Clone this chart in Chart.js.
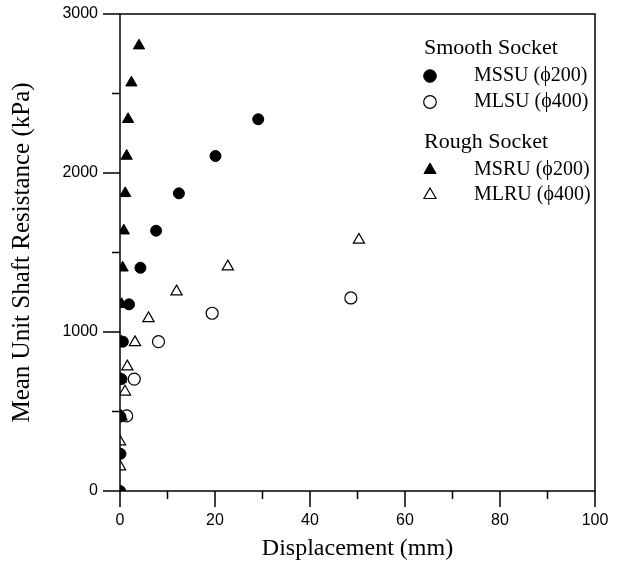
<!DOCTYPE html>
<html>
<head>
<meta charset="utf-8">
<script src="https://cdn.jsdelivr.net/npm/chart.js@4"></script>
<style>
  html, body { margin: 0; padding: 0; background: #fff; }
  #wrap { width: 622px; height: 574px; }
</style>
</head>
<body>
<div id="wrap"><canvas id="chart" width="622" height="574"></canvas></div>
<script>
// Smooth socket, phi 200 (filled circles)
const mssuX = [0, 0.1, 0.1, 0.3, 0.6, 1.9, 4.3, 7.6, 12.4, 20.1, 29.1];
const mssuY = [0, 234, 468, 704, 939, 1174, 1404, 1637, 1872, 2107, 2338];
// Smooth socket, phi 400 (open circles)
const mlsuX = [1.4, 3.0, 8.1, 19.4, 48.6];
const mlsuY = [472, 704, 939, 1118, 1214];
// Rough socket, phi 200 (filled triangles)
const msruX = [0.1, 0.2, 0.3, 0.35, 0.55, 0.8, 1.1, 1.4, 1.7, 2.4, 4.0];
const msruY = [468, 704, 939, 1174, 1404, 1637, 1872, 2107, 2338, 2568, 2801];
// Rough socket, phi 400 (open triangles)
const mlruX = [0, 0, 0.3, 1.05, 1.54, 3.16, 6.0, 11.9, 22.7, 50.3];
const mlruY = [153, 310, 468, 624, 782, 935, 1086, 1254, 1411, 1579];

const xTicks = [0, 20, 40, 60, 80, 100];
const yTicks = [0, 1000, 2000, 3000];

const legendGroups = [
  { title: 'Smooth Socket', items: [0, 1], labels: ['MSSU (\u03D5200)', 'MLSU (\u03D5400)'] },
  { title: 'Rough Socket', items: [2, 3], labels: ['MSRU (\u03D5200)', 'MLRU (\u03D5400)'] }
];

function pts(xs, ys) {
  return xs.map((x, i) => ({ x: x, y: ys[i] }));
}

const serif = "'Liberation Serif', 'Times New Roman', serif";
const sans = "'Liberation Sans', Arial, sans-serif";

// axis frame, tick marks and the grouped legend
const framePlugin = {
  id: 'frame',
  afterDraw(chart) {
    const ctx = chart.ctx;
    const a = chart.chartArea;
    const xs = chart.scales.x, ys = chart.scales.y;
    ctx.save();
    ctx.strokeStyle = '#000';
    ctx.lineWidth = 1.5;
    ctx.strokeRect(a.left, a.top, a.right - a.left, a.bottom - a.top);
    ctx.beginPath();
    for (let v = 0; v <= 100; v += 10) {
      const px = xs.getPixelForValue(v);
      const len = v % 20 === 0 ? 16 : 8;
      ctx.moveTo(px, a.bottom);
      ctx.lineTo(px, a.bottom + len);
    }
    for (let v = 0; v <= 3000; v += 500) {
      const py = ys.getPixelForValue(v);
      const len = v % 1000 === 0 ? 17 : 8;
      ctx.moveTo(a.left, py);
      ctx.lineTo(a.left - len, py);
    }
    ctx.stroke();

    // legend
    const titleX = a.right - 171, markX = a.right - 165, textX = a.right - 121;
    const rowsY = [[48, 76, 102], [142, 170, 195]];
    ctx.textBaseline = 'middle';
    ctx.textAlign = 'left';
    legendGroups.forEach((g, gi) => {
      ctx.fillStyle = '#000';
      ctx.font = '22px ' + serif;
      ctx.fillText(g.title, titleX, rowsY[gi][0]);
      g.items.forEach((di, k) => {
        const ds = chart.data.datasets[di];
        const y = rowsY[gi][k + 1];
        ctx.fillStyle = ds.backgroundColor;
        ctx.strokeStyle = ds.borderColor;
        ctx.lineWidth = ds.borderWidth;
        Chart.helpers.drawPoint(ctx, {
          pointStyle: ds.pointStyle,
          radius: ds.pointStyle === 'triangle' ? 7 : 6.3,
          borderWidth: ds.borderWidth,
          rotation: 0
        }, markX, y);
        ctx.fillStyle = '#000';
        ctx.font = '20px ' + serif;
        ctx.fillText(g.labels[k], textX, y);
      });
    });
    ctx.restore();
  }
};

function noPad(s) {
  s.paddingTop = 0;
  s.paddingBottom = 0;
  s.paddingLeft = 0;
  s.paddingRight = 0;
}

new Chart(document.getElementById('chart').getContext('2d'), {
  type: 'scatter',
  data: {
    datasets: [
      { label: 'MSSU', data: pts(mssuX, mssuY), pointStyle: 'circle', pointRadius: 5.5,
        backgroundColor: '#000', borderColor: '#000', borderWidth: 1 },
      { label: 'MLSU', data: pts(mlsuX, mlsuY), pointStyle: 'circle', pointRadius: 6,
        backgroundColor: 'rgba(0,0,0,0)', borderColor: '#000', borderWidth: 1.2 },
      { label: 'MSRU', data: pts(msruX, msruY), pointStyle: 'triangle', pointRadius: 6.5,
        backgroundColor: '#000', borderColor: '#000', borderWidth: 1 },
      { label: 'MLRU', data: pts(mlruX, mlruY), pointStyle: 'triangle', pointRadius: 6.5,
        backgroundColor: 'rgba(0,0,0,0)', borderColor: '#000', borderWidth: 1.2 }
    ]
  },
  options: {
    responsive: false,
    animation: false,
    layout: { padding: { top: 14, right: 27, left: 0, bottom: 0 } },
    plugins: { legend: { display: false }, tooltip: { enabled: false } },
    scales: {
      x: {
        type: 'linear', min: 0, max: 100,
        afterBuildTicks: s => { s.ticks = xTicks.map(v => ({ value: v })); },
        afterFit: s => { s.height = 83; noPad(s); },
        grid: { display: false, drawTicks: false },
        border: { display: false },
        ticks: { padding: 20, color: '#000', font: { family: sans, size: 16 }, maxRotation: 0,
                 callback: v => String(v) },
        title: { display: true, text: 'Displacement (mm)', color: '#000',
                 font: { family: serif, size: 24 }, padding: { top: 0, bottom: 11 } }
      },
      y: {
        type: 'linear', min: 0, max: 3000,
        afterBuildTicks: s => { s.ticks = yTicks.map(v => ({ value: v })); },
        afterFit: s => { s.width = 120; noPad(s); },
        grid: { display: false, drawTicks: false },
        border: { display: false },
        ticks: { padding: 22, color: '#000', font: { family: sans, size: 16 },
                 callback: v => String(v) },
        title: { display: true, text: 'Mean Unit Shaft Resistance (kPa)', color: '#000',
                 font: { family: serif, size: 25 }, padding: { top: 7, bottom: 0 } }
      }
    }
  },
  plugins: [framePlugin]
});
</script>
</body>
</html>
